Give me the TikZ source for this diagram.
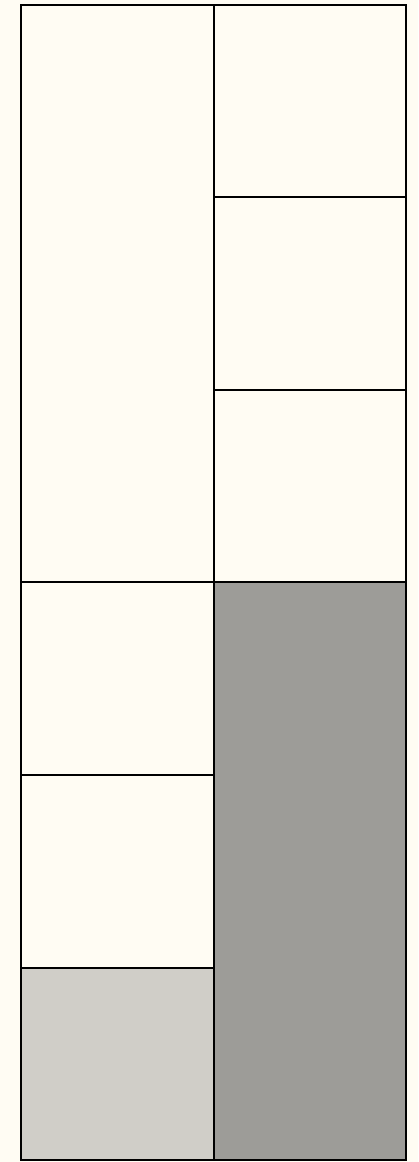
\documentclass[tikz,border=0pt]{standalone}
\usepackage{xcolor}
\usepackage{tikz}

\definecolor{cream}{HTML}{FFFCF3}
\definecolor{lightgrey}{HTML}{D0CEC8}
\definecolor{darkgrey}{HTML}{9D9C98}

\begin{document}
\begin{tikzpicture}[x=1pt, y=1pt]

\tikzset{
  cell/.style  = {draw=black, line width=2pt, fill=cream},
  light/.style = {cell, fill=lightgrey},
  dark/.style  = {cell, fill=darkgrey}
}

%% ── Background ──────────────────────────────────────────────────
\fill[cream] (0, 0) rectangle (418, 1162);
\useasboundingbox (0, 0) rectangle (418, 1162);

%% ── Left column ─────────────────────────────────────────────────
\filldraw[cell]  (21, 1157) rectangle (214, 580);
\filldraw[cell]  (21, 580)  rectangle (214, 387);
\filldraw[cell]  (21, 387)  rectangle (214, 194);
\filldraw[light] (21, 194)  rectangle (214, 2);

%% ── Right column ────────────────────────────────────────────────
\filldraw[cell]  (214, 1157) rectangle (406, 965);
\filldraw[cell]  (214, 965)  rectangle (406, 772);
\filldraw[cell]  (214, 772)  rectangle (406, 580);
\filldraw[dark]  (214, 580)  rectangle (406, 2);

\end{tikzpicture}
\end{document}
